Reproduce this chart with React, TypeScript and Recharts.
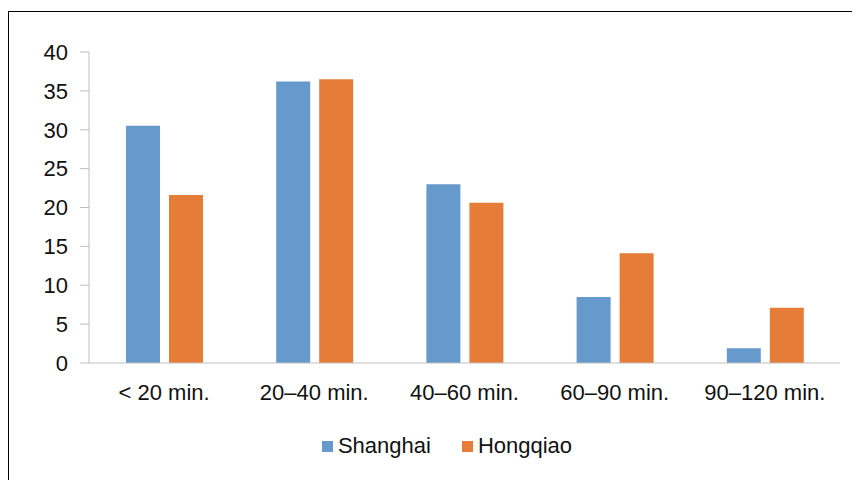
import { BarChart, Bar, XAxis, YAxis, Legend } from "recharts";

const categories = ["< 20 min.", "20–40 min.", "40–60 min.", "60–90 min.", "90–120 min."];
const shanghai = [30.5, 36.2, 23.0, 8.5, 1.9];
const hongqiao = [21.6, 36.5, 20.6, 14.1, 7.1];
const yTicks = [0, 5, 10, 15, 20, 25, 30, 35, 40];

const series = [
  { key: "shanghai", name: "Shanghai", color: "#6699cc" },
  { key: "hongqiao", name: "Hongqiao", color: "#e57c37" },
];

const data = categories.map((c, i) => ({
  name: c,
  shanghai: shanghai[i],
  hongqiao: hongqiao[i],
}));

const FONT = "'Liberation Sans', Arial, sans-serif";
const AXIS = "#bfbfbf";

function LegendContent() {
  return (
    <div
      style={{
        display: "flex",
        justifyContent: "center",
        alignItems: "center",
        height: 30,
        paddingLeft: 25,
        fontFamily: FONT,
        fontSize: 22,
        color: "#111",
      }}
    >
      {series.map((s, i) => (
        <div
          key={s.key}
          style={{ display: "flex", alignItems: "center", marginLeft: i ? 31 : 0 }}
        >
          <span style={{ width: 11, height: 11, background: s.color, marginRight: 5 }} />
          <span>{s.name}</span>
        </div>
      ))}
    </div>
  );
}

export default function App() {
  return (
    <div
      style={{
        position: "relative",
        top: 3,
        width: 851,
        height: 471,
        borderTop: "1px solid #000",
        borderLeft: "1px solid #000",
        background: "#fff",
      }}
    >
      <BarChart
        width={851}
        height={471}
        data={data}
        margin={{ top: 40, right: 20, bottom: 30, left: 0 }}
        barSize={34}
        barGap={9}
      >
        <XAxis
          dataKey="name"
          height={60}
          axisLine={{ stroke: AXIS }}
          tickLine={false}
          tickSize={0}
          tickMargin={21}
          tick={{ fill: "#111", fontSize: 22, fontFamily: FONT }}
          interval={0}
        />
        <YAxis
          width={80}
          domain={[0, 40]}
          ticks={yTicks}
          axisLine={{ stroke: AXIS }}
          tickLine={{ stroke: AXIS }}
          tickSize={9}
          tickMargin={12}
          tick={{ fill: "#111", fontSize: 22, fontFamily: FONT }}
        />
        <Legend
          verticalAlign="bottom"
          content={<LegendContent />}
          wrapperStyle={{ top: 419, left: 0, width: 851, height: 30 }}
        />
        {series.map((s) => (
          <Bar
            key={s.key}
            dataKey={s.key}
            name={s.name}
            fill={s.color}
            isAnimationActive={false}
          />
        ))}
      </BarChart>
    </div>
  );
}
